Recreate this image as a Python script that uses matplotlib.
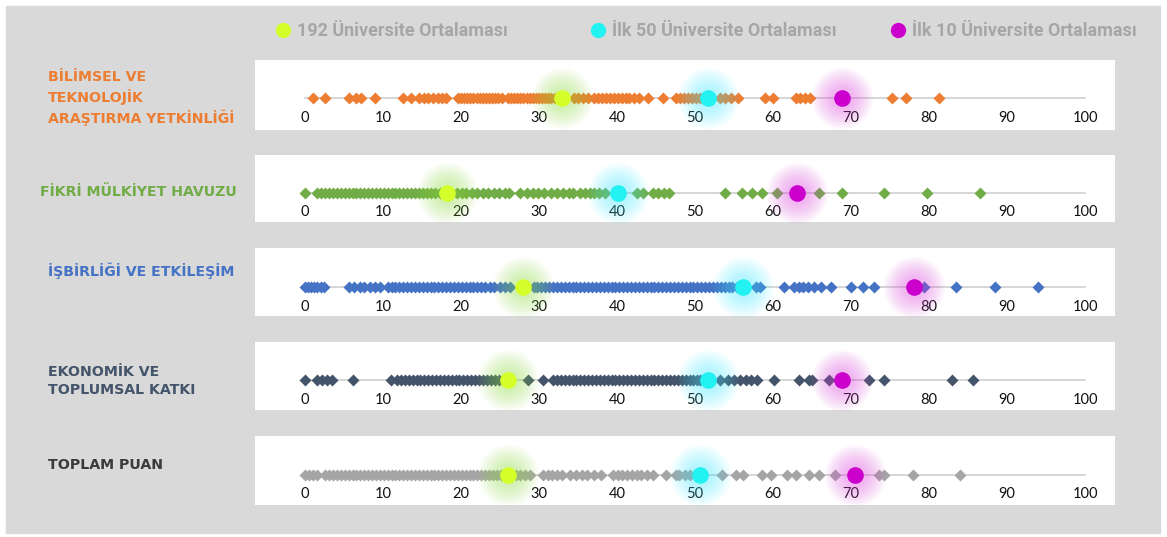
import matplotlib.pyplot as plt
from matplotlib.patches import Rectangle

W, H = 1167, 537

labels = ["BİLİMSEL VE\nTEKNOLOJİK\nARAŞTIRMA YETKİNLİĞİ",
          "FİKRİ MÜLKİYET HAVUZU",
          "İŞBİRLİĞİ VE ETKİLEŞİM",
          "EKONOMİK VE\nTOPLUMSAL KATKI",
          "TOPLAM PUAN"]

bilimsel = [1.0, 2.5, 5.6, 6.5, 7.2, 9.0, 12.5, 13.6, 14.6, 15.2, 15.8, 16.4, 17.0, 17.6, 18.1,
            19.6, 20.0, 20.4, 20.8, 21.2, 21.6, 22.0, 22.4, 22.8, 23.2, 23.6, 24.0, 24.4, 24.8, 25.3,
            26.0, 26.4, 26.8, 27.2, 27.6, 28.0, 28.4, 28.8, 29.2, 29.6, 30.0, 30.4, 30.8, 31.2, 31.6, 32.0,
            34.5, 35.0, 35.6, 36.3, 37.0, 37.6, 38.1, 38.6, 39.1, 39.6, 40.1, 40.6, 41.1, 41.6, 42.2, 42.8,
            44.0, 45.9, 47.6, 48.1, 48.6, 49.1, 49.6, 50.1, 50.6, 53.2, 53.9, 54.6, 55.5, 59.0, 60.0,
            63.0, 63.5, 64.1, 64.8, 75.2, 77.0, 81.3]

fikri = [0.0, 1.6, 2.1, 2.6, 3.1, 3.6, 4.1, 4.6, 5.1, 5.6, 6.1, 6.6, 7.1, 7.6, 8.1, 8.6, 9.1, 9.6,
         10.1, 10.6, 11.1, 11.6, 12.1, 12.6, 13.1, 13.6, 14.1, 14.6, 15.1, 15.6, 16.1, 16.7, 17.3,
         19.5, 20.1, 20.7, 21.4, 22.0, 22.8, 23.5, 24.2, 24.9, 25.6, 26.2, 27.6, 28.5, 29.2, 29.9,
         30.7, 31.5, 32.3, 33.1, 33.8, 34.4, 35.3, 35.9, 36.5, 37.1, 37.7, 38.4,
         42.5, 43.3, 44.6, 45.3, 46.0, 46.7, 53.9, 56.0, 57.3, 58.6, 60.5, 65.9, 68.9, 74.2, 79.8, 86.5]

isbirligi = [0.0, 0.4, 0.8, 1.2, 1.6, 2.0, 2.4, 5.7, 6.3, 7.0, 7.6, 8.3, 9.0, 9.6,
             10.6, 11.1, 11.6, 12.1, 12.6, 13.1, 13.6, 14.1, 14.6, 15.1, 15.6, 16.1, 16.6, 17.1, 17.6,
             18.1, 18.6, 19.1, 19.6, 20.1, 20.6, 21.1, 21.6, 22.1, 22.6, 23.1, 23.7,
             24.2, 25.0, 25.6, 26.3, 29.3, 29.8, 30.3, 30.8, 31.3, 31.8, 32.3, 32.8, 33.3, 33.8, 34.3,
             34.8, 35.3, 35.8, 36.3, 36.8, 37.3, 37.8, 38.3, 38.8, 39.3, 39.8, 40.3, 40.8, 41.3, 41.8,
             42.3, 42.8, 43.3, 43.8, 44.3, 44.8, 45.3, 45.8, 46.3, 46.8, 47.3, 47.8, 48.3, 48.8, 49.3,
             49.8, 50.3, 50.8, 51.3, 51.8, 52.3, 52.8, 53.3, 53.8, 54.3, 54.8, 55.4,
             57.8, 58.3, 61.4, 62.7, 63.3, 63.9, 64.5, 65.2, 66.1, 67.4, 70.0, 71.5, 73.0, 79.4,
             83.4, 88.5, 94.0]

ekonomik = [0.0, 1.6, 2.2, 2.8, 3.5, 6.1, 11.0, 11.8, 12.3, 12.8, 13.3, 13.8, 14.3, 14.8, 15.3,
            15.8, 16.3, 16.8, 17.3, 17.8, 18.3, 18.8, 19.3, 19.8, 20.3, 20.8, 21.3, 21.8, 22.3, 22.8,
            23.3, 23.8, 24.3, 24.9, 25.4,
            28.6, 30.5, 31.8, 32.3, 32.8, 33.3, 33.8, 34.3, 34.8, 35.3, 35.8, 36.3, 36.8, 37.3, 37.8,
            38.3, 38.8, 39.3, 39.8, 40.3, 40.8, 41.3, 41.8, 42.3, 42.8, 43.3, 43.8, 44.3, 44.8, 45.3,
            45.8, 46.3, 46.8, 47.3, 47.8, 48.3, 48.8, 49.3, 49.8, 50.3, 50.7,
            53.2, 54.2, 55.0, 55.8, 56.5, 57.2, 57.9, 60.1, 63.3, 64.6, 65.0, 67.2, 72.3, 74.2, 83.0, 85.6]

toplam = [0.0, 0.5, 1.0, 1.5, 2.6, 3.1, 3.6, 4.1, 4.6, 5.1, 5.6, 6.1, 6.6, 7.1, 7.6, 8.1, 8.6, 9.1,
          9.6, 10.1, 10.6, 11.1, 11.6, 12.1, 12.6, 13.1, 13.6, 14.1, 14.6, 15.1, 15.6, 16.1, 16.6,
          17.1, 17.6, 18.1, 18.6, 19.1, 19.6, 20.1, 20.6, 21.1, 21.6, 22.1, 22.6, 23.1, 23.6, 24.1,
          24.6, 25.1, 25.6, 26.1, 26.6, 27.1, 27.6, 28.2, 28.9,
          30.5, 31.1, 31.7, 32.3, 33.0, 34.0, 34.8, 35.5, 36.2, 37.0, 38.0, 39.5, 40.1, 40.7, 41.3,
          41.9, 42.5, 43.1, 43.8, 44.6, 46.3, 47.6, 48.0, 48.7, 49.4,
          53.4, 55.2, 56.2, 58.6, 59.7, 61.8, 62.9, 64.6, 65.9, 67.9, 73.6, 74.2, 78.0, 84.0]

series = [bilimsel, fikri, isbirligi, ekonomik, toplam]
avg_192 = [33.0, 18.2, 28.0, 26.0, 26.0]
avg_ilk50 = [51.7, 40.1, 56.2, 51.7, 50.6]
avg_ilk10 = [68.9, 63.1, 78.1, 68.9, 70.5]
legend_names = ["192 Üniversite Ortalaması", "İlk 50 Üniversite Ortalaması", "İlk 10 Üniversite Ortalaması"]

colors = ["#ED7D31", "#70AD47", "#4472C4", "#44546A", "#A5A5A5"]
label_colors = ["#ED7D31", "#70AD47", "#4472C4", "#44546A", "#3A3A3A"]
avg_colors = ["#D4FF2A", "#22F2F2", "#CC00CC"]
glow_colors = ["#8FE040", "#40E8FF", "#E040E0"]

# pixel layout
panels = [(60, 130), (155, 222), (248, 316), (342, 410), (436, 505)]
line_y = [98, 193, 287, 380, 475]
label_y = [98, 192, 271, 381, 465]
label_x = [48, 40, 48, 48, 48]
px0, px1 = 255, 1115
x0_px, x100_px = 305, 1085
ppu = (x100_px - x0_px) / 100.0
glow_sizes = [44, 41, 38, 35, 32, 29, 26, 23, 20, 17]

fig = plt.figure(figsize=(W / 100, H / 100), dpi=100)
fig.patch.set_facecolor("white")

bg = fig.add_axes([0, 0, 1, 1])
bg.set_xlim(0, W)
bg.set_ylim(H, 0)
bg.axis("off")
bg.add_patch(Rectangle((6, 6), 1154, 527, color="#D9D9D9", zorder=0))

# legend
leg_x = [283, 598, 898]
for lx, name, c in zip(leg_x, legend_names, avg_colors):
    bg.plot(lx, 30, "o", ms=11, color=c, mec="none")
    bg.text(lx + 14, 31, name, color="#A6A6A6", fontsize=13, fontweight="bold",
            family=["Roboto", "DejaVu Sans"], va="center", ha="left")

for i in range(5):
    bg.text(label_x[i], label_y[i], labels[i], color=label_colors[i], fontsize=10.2,
            fontweight="bold", family="DejaVu Sans", va="center", ha="left", linespacing=1.35)

for i in range(5):
    top, bot = panels[i]
    ax = fig.add_axes([px0 / W, 1 - bot / H, (px1 - px0) / W, (bot - top) / H])
    ax.set_facecolor("white")
    ax.set_xlim(-(x0_px - px0) / ppu, 100 + (px1 - x100_px) / ppu)
    ax.set_ylim(0, 1)
    yl = (bot - line_y[i]) / (bot - top)
    for s in ["top", "left", "right"]:
        ax.spines[s].set_visible(False)
    ax.spines["bottom"].set_position(("data", yl))
    ax.spines["bottom"].set_bounds(0, 100)
    ax.spines["bottom"].set_color("#D0D0D0")
    ax.spines["bottom"].set_linewidth(1.2)
    ax.set_xticks(range(0, 101, 10))
    ax.tick_params(axis="x", length=0, pad=9, labelsize=10.5, labelcolor="#111111")
    for t in ax.get_xticklabels():
        t.set_family(["Lato", "DejaVu Sans"])
    ax.set_yticks([])

    vals = series[i]
    ax.plot(vals, [yl] * len(vals), "D", ms=6.5, color=colors[i], mec="none", ls="none", zorder=3)

    avgs = [avg_192[i], avg_ilk50[i], avg_ilk10[i]]
    for a, gc, c in zip(avgs, glow_colors, avg_colors):
        for s in glow_sizes:
            ax.plot(a, yl, "o", ms=s, color=gc, alpha=0.045, mec="none", zorder=4, clip_on=False)
        ax.plot(a, yl, "o", ms=12, color=c, mec="none", zorder=5)

fig.savefig("out.png", dpi=100, facecolor=fig.get_facecolor())
